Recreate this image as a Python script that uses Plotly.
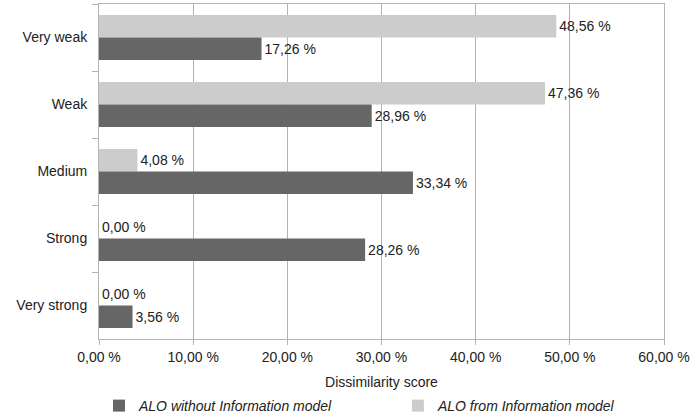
import plotly.graph_objects as go

categories = ["Very weak", "Weak", "Medium", "Strong", "Very strong"]
alo_from_info = [48.56, 47.36, 4.08, 0.00, 0.00]
alo_without_info = [17.26, 28.96, 33.34, 28.26, 3.56]
x_ticks = [0, 10, 20, 30, 40, 50, 60]

def fmt(v):
    return f"{v:.2f}".replace(".", ",") + " %"

fig = go.Figure()
fig.add_trace(go.Bar(
    y=categories, x=alo_from_info, orientation="h",
    name="ALO from Information model", legend="legend2",
    marker=dict(color="#cccccc", line=dict(width=0)),
    text=[fmt(v) for v in alo_from_info], textposition="outside",
    textfont=dict(color="#222222", size=14), cliponaxis=False,
))
fig.add_trace(go.Bar(
    y=categories, x=alo_without_info, orientation="h",
    name="ALO without Information model", legend="legend",
    marker=dict(color="#666666", line=dict(width=0)),
    text=[fmt(v) for v in alo_without_info], textposition="outside",
    textfont=dict(color="#222222", size=14), cliponaxis=False,
))

leg_common = dict(orientation="h", xanchor="left", y=-0.2, yanchor="middle",
                  font=dict(size=14, style="italic"), bgcolor="rgba(0,0,0,0)",
                  borderwidth=0, tracegroupgap=0)

fig.update_layout(
    width=690, height=418,
    margin=dict(l=99, r=26, t=4, b=79, autoexpand=False),
    paper_bgcolor="white", plot_bgcolor="white",
    font=dict(family="Liberation Sans", size=14, color="#222222"),
    barmode="group", bargap=0.33, bargroupgap=0,
    showlegend=True,
    legend=dict(x=0.0, **leg_common),
    legend2=dict(x=0.529, **leg_common),
)
fig.update_xaxes(
    range=[0, 60], tickvals=x_ticks, ticktext=[fmt(v) for v in x_ticks],
    showgrid=True, gridcolor="#b3b3b3", gridwidth=1,
    showline=True, linecolor="#b3b3b3", mirror=True,
    ticks="outside", ticklen=5, tickcolor="#b3b3b3",
    zeroline=False, tickfont=dict(size=14), automargin=False,
    title=dict(text="Dissimilarity score", font=dict(size=14), standoff=13),
)
fig.update_yaxes(
    categoryorder="array", categoryarray=categories, autorange="reversed",
    showline=True, linecolor="#b3b3b3", mirror=True,
    ticks="outside", ticklen=6, tickcolor="#b3b3b3", tickson="boundaries",
    showgrid=False, ticklabelstandoff=8, tickfont=dict(size=14),
    automargin=False,
)

fig.write_html("out.html")
